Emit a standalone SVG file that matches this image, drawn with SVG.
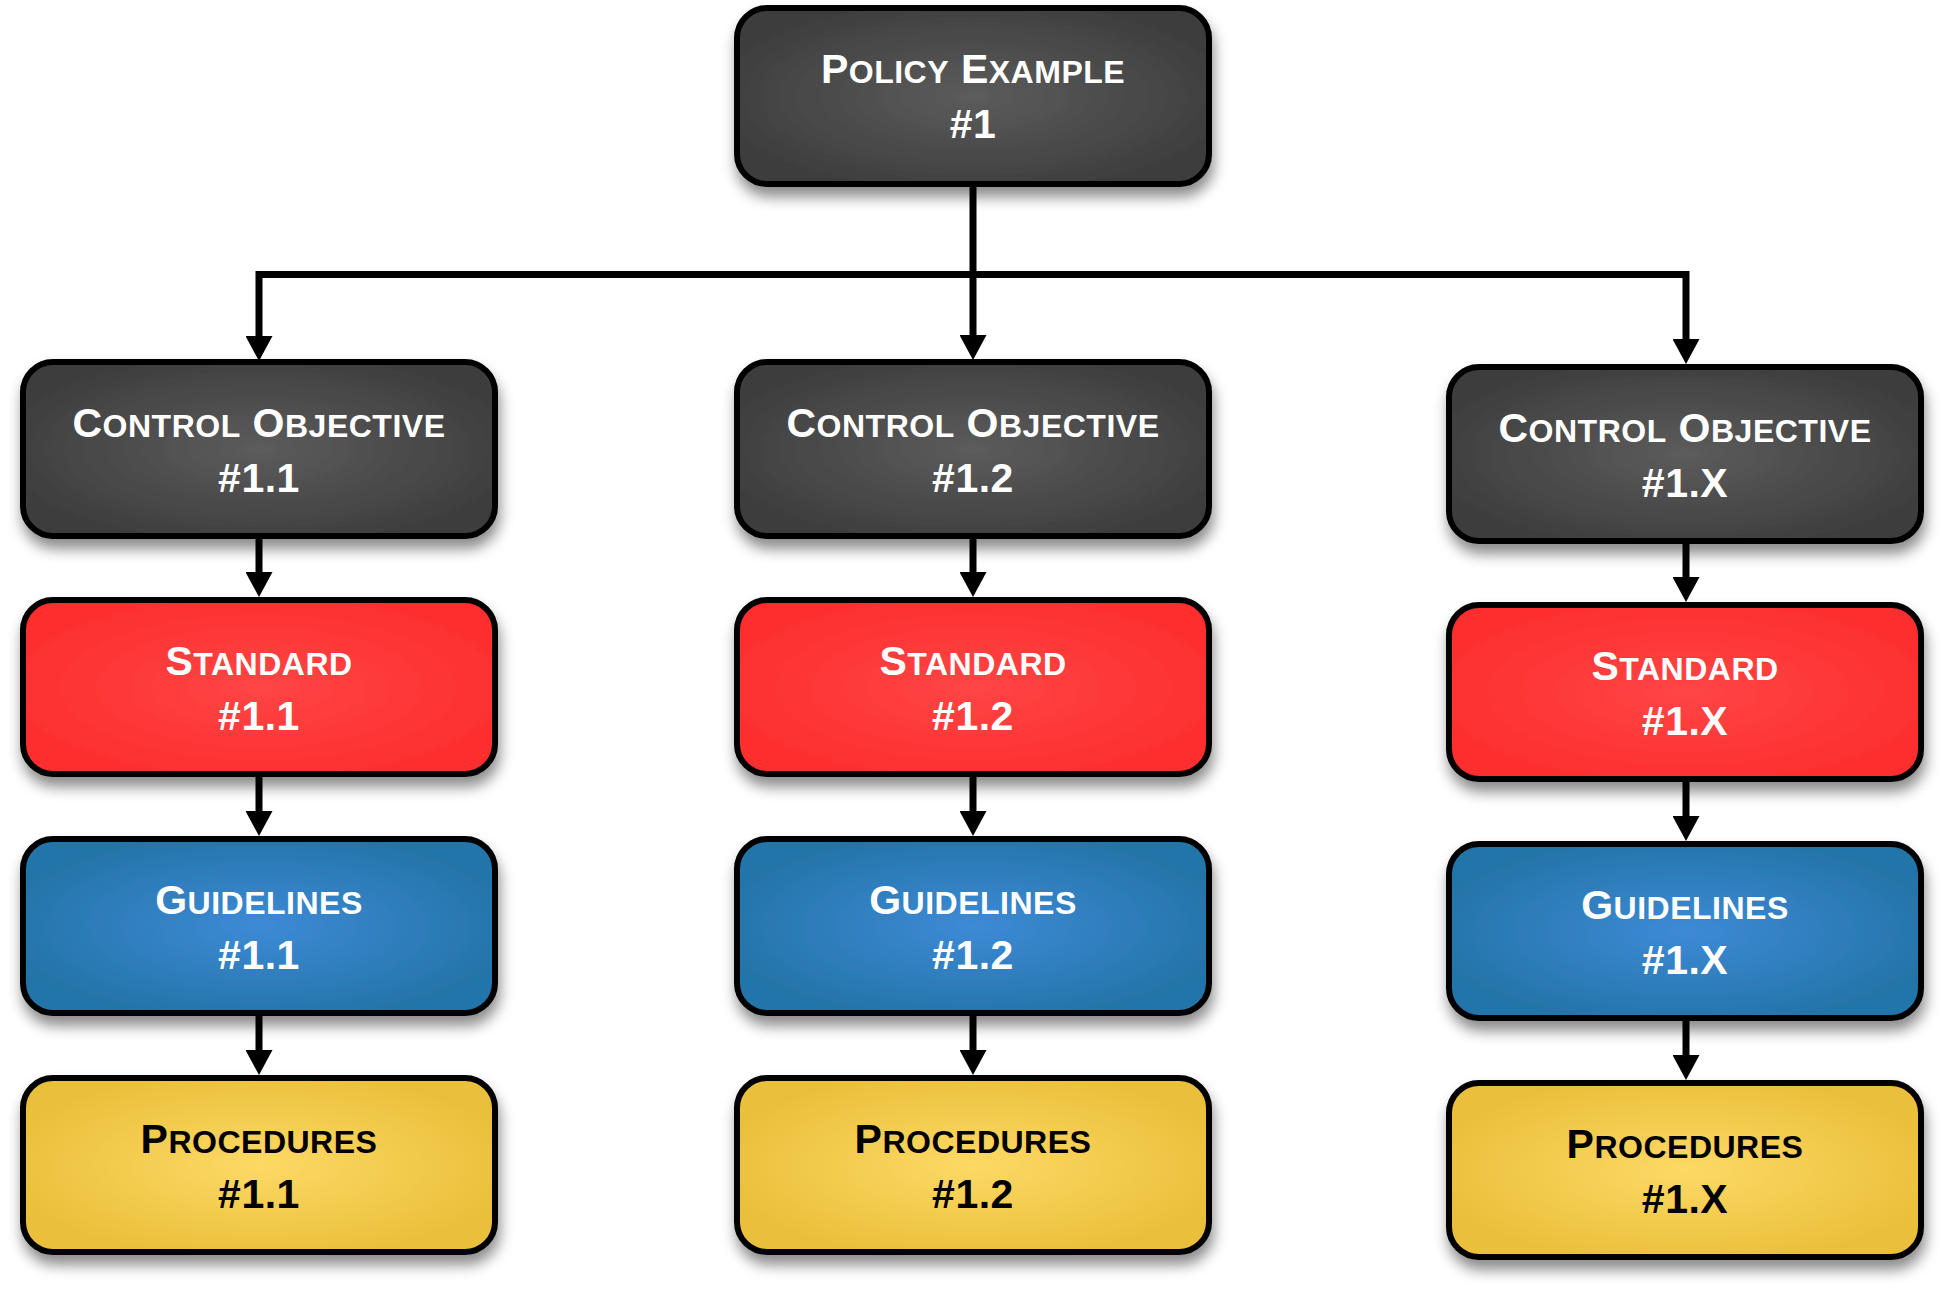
<svg xmlns="http://www.w3.org/2000/svg" width="1944" height="1294" viewBox="0 0 1944 1294">
<defs>
<style>
.box{stroke:#000;stroke-width:6;filter:url(#sh)}
.t{font-family:"Liberation Sans",Arial,sans-serif;font-weight:bold;font-size:41px;text-anchor:middle;letter-spacing:0.5px;fill:#fff}
.t .s{font-size:32px}
.dk{fill:#000}
.c{fill:none;stroke:#000;stroke-width:7;marker-end:url(#ah)}
.cl{fill:none;stroke:#000;stroke-width:7}
</style>
<filter id="sh" x="-10%" y="-15%" width="125%" height="145%">
<feDropShadow dx="2" dy="10" stdDeviation="7" flood-color="#000" flood-opacity="0.45"/>
</filter>
<radialGradient id="gD" cx="0.5" cy="0.5" r="0.55"><stop offset="0" stop-color="#5c5c5c"/><stop offset="1" stop-color="#3e3e3e"/></radialGradient>
<radialGradient id="gR" cx="0.5" cy="0.5" r="0.55"><stop offset="0" stop-color="#ff4545"/><stop offset="1" stop-color="#fd2e2e"/></radialGradient>
<radialGradient id="gB" cx="0.5" cy="0.5" r="0.55"><stop offset="0" stop-color="#3d8ad6"/><stop offset="1" stop-color="#2474a8"/></radialGradient>
<radialGradient id="gY" cx="0.5" cy="0.5" r="0.55"><stop offset="0" stop-color="#fdd965"/><stop offset="1" stop-color="#eabf3b"/></radialGradient>
<marker id="ah" markerUnits="userSpaceOnUse" viewBox="0 0 25 27" refX="5" refY="13.5" markerWidth="25" markerHeight="27" orient="auto">
<path d="M0,0 L25,13.5 L0,27 z" fill="#000"/>
</marker>
</defs>

<g id="connectors">
<path class="cl" d="M973,187 V274.5"/>
<path class="cl" d="M259,274.5 H1686"/>
<path class="c" d="M259,271 V341"/>
<path class="c" d="M973,274.5 V340"/>
<path class="c" d="M1686,271 V344"/>
<path class="c" d="M259,539 V577"/>
<path class="c" d="M259,777 V816"/>
<path class="c" d="M259,1016 V1055"/>
<path class="c" d="M973,539 V577"/>
<path class="c" d="M973,777 V816"/>
<path class="c" d="M973,1016 V1055"/>
<path class="c" d="M1686,544 V582"/>
<path class="c" d="M1686,782 V821"/>
<path class="c" d="M1686,1021 V1060"/>
</g>

<g id="policy">
<rect class="box" x="737" y="8" width="472" height="176" rx="30" fill="url(#gD)"/>
<text class="t" x="973" y="83">P<tspan class="s">OLICY</tspan> E<tspan class="s">XAMPLE</tspan></text>
<text class="t" x="973" y="138">#1</text>
</g>

<g id="co11">
<rect class="box" x="23" y="362" width="472" height="174" rx="30" fill="url(#gD)"/>
<text class="t" x="259" y="437">C<tspan class="s">ONTROL</tspan> O<tspan class="s">BJECTIVE</tspan></text>
<text class="t" x="259" y="492">#1.1</text>
</g>
<g id="co12">
<rect class="box" x="737" y="362" width="472" height="174" rx="30" fill="url(#gD)"/>
<text class="t" x="973" y="437">C<tspan class="s">ONTROL</tspan> O<tspan class="s">BJECTIVE</tspan></text>
<text class="t" x="973" y="492">#1.2</text>
</g>
<g id="co1x">
<rect class="box" x="1449" y="367" width="472" height="174" rx="30" fill="url(#gD)"/>
<text class="t" x="1685" y="442">C<tspan class="s">ONTROL</tspan> O<tspan class="s">BJECTIVE</tspan></text>
<text class="t" x="1685" y="497">#1.X</text>
</g>

<g id="std11">
<rect class="box" x="23" y="600" width="472" height="174" rx="30" fill="url(#gR)"/>
<text class="t" x="259" y="675">S<tspan class="s">TANDARD</tspan></text>
<text class="t" x="259" y="730">#1.1</text>
</g>
<g id="std12">
<rect class="box" x="737" y="600" width="472" height="174" rx="30" fill="url(#gR)"/>
<text class="t" x="973" y="675">S<tspan class="s">TANDARD</tspan></text>
<text class="t" x="973" y="730">#1.2</text>
</g>
<g id="std1x">
<rect class="box" x="1449" y="605" width="472" height="174" rx="30" fill="url(#gR)"/>
<text class="t" x="1685" y="680">S<tspan class="s">TANDARD</tspan></text>
<text class="t" x="1685" y="735">#1.X</text>
</g>

<g id="gl11">
<rect class="box" x="23" y="839" width="472" height="174" rx="30" fill="url(#gB)"/>
<text class="t" x="259" y="914">G<tspan class="s">UIDELINES</tspan></text>
<text class="t" x="259" y="969">#1.1</text>
</g>
<g id="gl12">
<rect class="box" x="737" y="839" width="472" height="174" rx="30" fill="url(#gB)"/>
<text class="t" x="973" y="914">G<tspan class="s">UIDELINES</tspan></text>
<text class="t" x="973" y="969">#1.2</text>
</g>
<g id="gl1x">
<rect class="box" x="1449" y="844" width="472" height="174" rx="30" fill="url(#gB)"/>
<text class="t" x="1685" y="919">G<tspan class="s">UIDELINES</tspan></text>
<text class="t" x="1685" y="974">#1.X</text>
</g>

<g id="pr11">
<rect class="box" x="23" y="1078" width="472" height="174" rx="30" fill="url(#gY)"/>
<text class="t dk" x="259" y="1153">P<tspan class="s">ROCEDURES</tspan></text>
<text class="t dk" x="259" y="1208">#1.1</text>
</g>
<g id="pr12">
<rect class="box" x="737" y="1078" width="472" height="174" rx="30" fill="url(#gY)"/>
<text class="t dk" x="973" y="1153">P<tspan class="s">ROCEDURES</tspan></text>
<text class="t dk" x="973" y="1208">#1.2</text>
</g>
<g id="pr1x">
<rect class="box" x="1449" y="1083" width="472" height="174" rx="30" fill="url(#gY)"/>
<text class="t dk" x="1685" y="1158">P<tspan class="s">ROCEDURES</tspan></text>
<text class="t dk" x="1685" y="1213">#1.X</text>
</g>
</svg>
